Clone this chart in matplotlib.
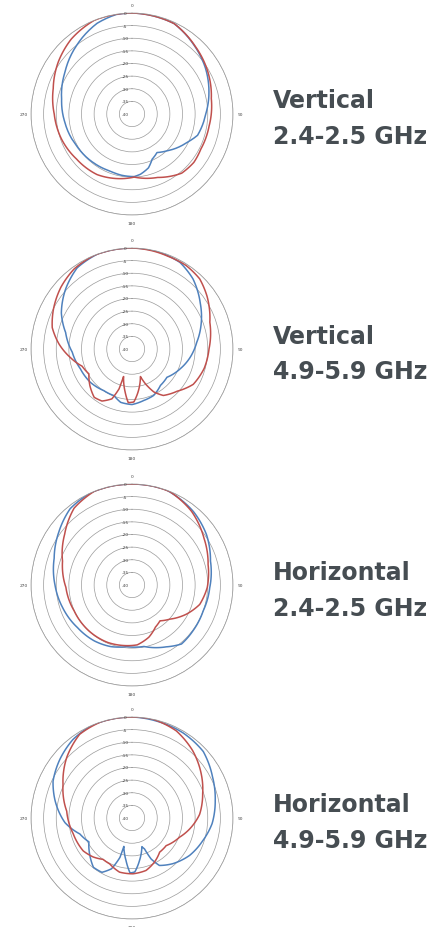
import matplotlib.pyplot as plt
import numpy as np

# angle (deg, clockwise from top) and gain (dB)
v24_blue_ang = [0, 25, 42, 58, 74, 90, 108, 117, 136, 147, 156, 163, 172, 178, 190, 201, 218, 240, 263, 282, 302, 321, 339, 351, 360]
v24_blue_db = [0, -0.5, -3.3, -5.7, -8.3, -10.8, -12.7, -15.4, -19.8, -21.8, -20.4, -17.7, -15.9, -15.2, -15.4, -15.8, -15.4, -14.7, -13.2, -11.5, -8.7, -5.1, -1.5, -0.1, 0]
v24_red_ang = [0, 25, 43, 60, 79, 99, 117, 128, 140, 158, 178, 196, 210, 231, 250, 270, 288, 305, 321, 338, 350, 360]
v24_red_db = [0, -0.5, -3.3, -5.5, -8.0, -9.1, -9.4, -8.9, -9.4, -12.9, -15.0, -13.5, -12.3, -11.7, -10.4, -9.2, -7.2, -4.3, -1.8, 0, 0, 0]

v5_blue_ang = [0, 14, 29, 41, 56, 71, 84, 98, 112, 129, 142, 155, 167, 180, 192, 201, 214, 231, 249, 267, 284, 297, 312, 326, 340, 360]
v5_blue_db = [0, -0.1, -0.8, -3.2, -7.4, -11.1, -14.2, -16.7, -19.3, -22.2, -21.7, -19.7, -19.1, -18.0, -18.4, -20.2, -20.1, -18.9, -18.1, -16.3, -12.9, -8.6, -4.6, -1.2, 0, 0]
v5_red_ang = [0, 12, 21, 33, 44, 55, 71, 90, 105, 120, 133, 146, 153, 159, 163, 172, 178, 184, 189, 197, 198, 202, 210, 218, 229, 240, 251, 262, 274, 285, 297, 311, 324, 338, 360]
v5_red_db = [0, -0.3, -0.6, -0.6, -1.4, -3.7, -7.4, -9.5, -10.4, -12.0, -15.5, -17.8, -20.9, -25.3, -28.6, -22.8, -19.0, -18.7, -22.7, -28.6, -23.4, -18.7, -16.2, -15.7, -17.9, -20.3, -19.1, -15.4, -11.0, -7.3, -5.1, -2.7, -0.9, 0, 0]

h24_blue_ang = [0, 20, 40, 56, 73, 92, 110, 127, 140, 151, 169, 185, 199, 214, 232, 252, 270, 289, 306, 321, 336, 360]
h24_blue_db = [0, 0, -2.1, -4.4, -7.5, -9.2, -10.0, -9.8, -9.5, -12.0, -15.2, -15.5, -14.2, -13.3, -12.6, -11.1, -9.5, -7.4, -4.2, -1.1, 0, 0]
h24_red_ang = [0, 12, 22, 39, 57, 75, 92, 106, 118, 132, 142, 151, 162, 175, 188, 203, 221, 246, 268, 289, 307, 323, 338, 360]
h24_red_db = [0, 0, -0.1, -2.5, -6.0, -8.8, -10.2, -12.1, -15.5, -19.8, -22.0, -20.9, -18.3, -16.2, -15.8, -15.3, -15.1, -14.9, -13.8, -10.9, -6.6, -1.9, 0, 0]

h5_blue_ang = [0, 14, 31, 47, 63, 78, 94, 108, 123, 138, 150, 155, 158, 161, 170, 177, 182, 188, 196, 197, 202, 209, 218, 228, 241, 253, 266, 283, 295, 309, 323, 337, 360]
h5_blue_db = [0, -0.4, -0.7, -1.4, -4.2, -6.3, -8.2, -10.6, -12.8, -15.7, -18.3, -22.1, -26.8, -28.0, -22.9, -18.6, -18.2, -23.0, -28.3, -23.7, -18.3, -15.4, -15.2, -17.6, -20.5, -18.4, -13.4, -8.7, -5.5, -3.2, -1.1, 0, 0]
h5_red_ang = [0, 12, 27, 42, 58, 71, 87, 99, 112, 129, 141, 153, 165, 179, 193, 206, 215, 225, 236, 255, 276, 296, 313, 328, 342, 360]
h5_red_db = [0, 0, -1.3, -4.1, -7.6, -10.4, -13.2, -16.3, -19.7, -22.6, -22.6, -20.4, -18.5, -17.9, -18.0, -19.8, -20.0, -18.2, -16.7, -15.9, -14.0, -9.6, -4.7, -0.9, 0, 0]

ring_vals = list(range(-40, 1, 5))

panels = [
    ("Vertical", "2.4-2.5 GHz", v24_blue_ang, v24_blue_db, v24_red_ang, v24_red_db, 115),
    ("Vertical", "4.9-5.9 GHz", v5_blue_ang, v5_blue_db, v5_red_ang, v5_red_db, 350),
    ("Horizontal", "2.4-2.5 GHz", h24_blue_ang, h24_blue_db, h24_red_ang, h24_red_db, 586),
    ("Horizontal", "4.9-5.9 GHz", h5_blue_ang, h5_blue_db, h5_red_ang, h5_red_db, 819),
]

W, H = 440, 928
fig = plt.figure(figsize=(W / 100, H / 100), dpi=100)
fig.patch.set_facecolor("white")

blue = "#4f81bd"
red = "#c0504d"
grid_c = "#9a9a9a"
txt_c = "#464d52"
R = 101
cx = 132

for line1, line2, ba, bd, ra, rd, cy in panels:
    ax = fig.add_axes([(cx - R) / W, (H - cy - R) / H, 2 * R / W, 2 * R / H], projection="polar")
    ax.set_theta_zero_location("N")
    ax.set_theta_direction(-1)
    ax.set_ylim(-40, 0)
    ax.set_yticks(ring_vals)
    ax.set_yticklabels([])
    ax.set_xticks(np.radians([0, 90, 180, 270]))
    ax.set_xticklabels(["0", "90", "180", "270"], fontsize=3.2, color="#444444")
    ax.tick_params(axis="x", pad=-5)
    ax.xaxis.grid(False)
    ax.yaxis.grid(True, color=grid_c, linewidth=0.5)
    ax.spines["polar"].set_color(grid_c)
    ax.spines["polar"].set_linewidth(0.5)
    # ring labels sit on the rings, just left of the 0 deg line
    for v in ring_vals:
        ax.annotate(str(v), (0, v), xytext=(-5, 0), textcoords="offset points",
                    ha="center", va="center", fontsize=3.2, color="#444444")
    for a, d, c in [(ba, bd, blue), (ra, rd, red)]:
        ln, = ax.plot(np.radians(a), d, color=c, linewidth=1.1)
        ln.get_path()._interpolation_steps = 12  # draw as arcs in polar space

    fig.text(273 / W, 1 - (cy - 6.5) / H, line1, fontsize=17, fontweight="bold",
             color=txt_c, family="DejaVu Sans", va="baseline", ha="left")
    fig.text(273 / W, 1 - (cy + 29.5) / H, line2, fontsize=17, fontweight="bold",
             color=txt_c, family="DejaVu Sans", va="baseline", ha="left")

fig.savefig("out.png", dpi=100, facecolor="white")
